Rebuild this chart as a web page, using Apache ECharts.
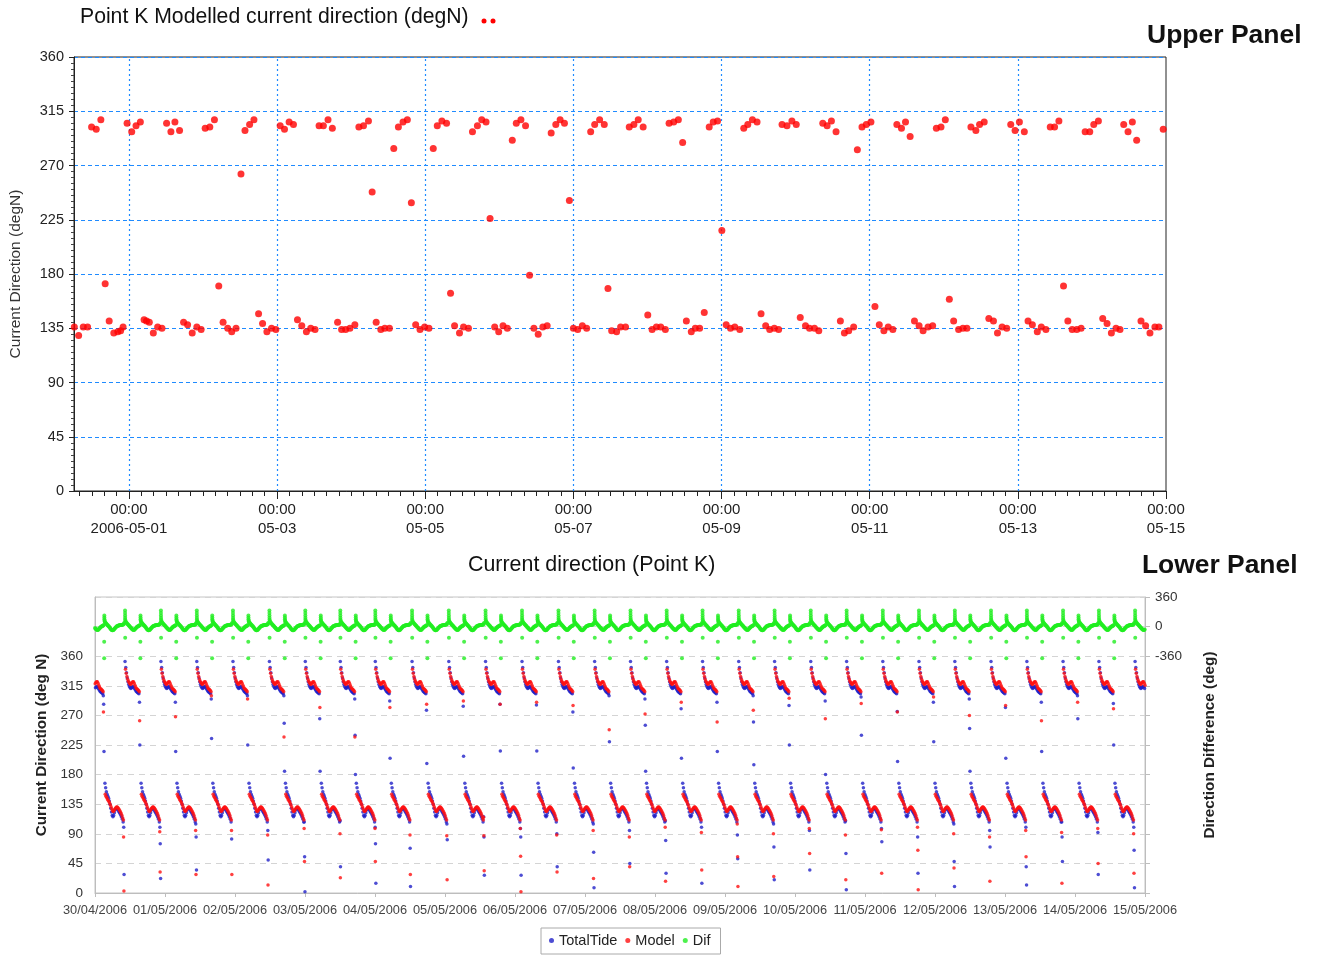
<!DOCTYPE html>
<html><head><meta charset="utf-8">
<script src="https://cdn.jsdelivr.net/npm/echarts@6/dist/echarts.min.js"></script>
<style>html,body{margin:0;padding:0;background:#fff}#c{width:1321px;height:956px}</style>
</head><body><div id="c"></div><script>
// ================= UPPER PANEL DATA =================
// [hours since 2006-05-01 00:00, direction degN]
const upperObs = [
[-17.7,136],[-16.3,129],[-14.8,136],[-13.4,136],[-12.1,302],[-10.6,300],[-9.1,308],[-7.7,172],
[-6.4,141],[-4.9,131],[-3.6,132],[-2.7,133],[-1.9,136],[-0.6,305],[0.9,298],[2.3,303],[3.7,306],
[4.9,142],[5.7,141],[6.6,140],[7.9,131],[9.3,136],[10.7,135],[12.2,305],[13.6,298],[14.9,306],[16.4,299],
[17.7,140],[19.0,138],[20.5,131],[22.0,136],[23.4,134],[24.7,301],[26.2,302],[27.7,308],[29.1,170],
[30.5,140],[32.0,135],[33.3,132],[34.7,135],[36.3,263],[37.6,299],[39.1,304],[40.5,308],
[42.0,147],[43.3,139],[44.7,132],[46.2,135],[47.6,134],[49.0,303],[50.4,300],[51.9,306],[53.3,304],
[54.6,142],[56.0,137],[57.5,132],[58.9,135],[60.3,134],[61.6,303],[63.0,303],[64.5,308],[65.9,301],
[67.6,140],[68.9,134],[70.2,134],[71.6,135],[73.2,138],[74.5,302],[76.0,303],[77.6,307],[78.8,248],
[80.1,140],[81.6,134],[82.9,135],[84.4,135],[85.8,284],[87.3,302],[88.8,306],[90.2,308],[91.5,239],
[92.9,138],[94.3,134],[95.8,136],[97.2,135],[98.6,284],[99.9,303],[101.4,307],[102.9,305],[104.2,164],
[105.5,137],[107.1,131],[108.4,136],[110.0,135],[111.3,298],[112.9,303],[114.3,308],[115.7,306],[117.0,226],
[118.5,136],[119.8,132],[121.2,137],[122.6,135],[124.2,291],[125.5,305],[127.0,308],[128.5,303],[129.8,179],
[131.2,135],[132.6,130],[134.1,136],[135.5,137],[136.8,297],[138.3,304],[139.7,308],[141.1,305],[142.7,241],
[144.0,135],[145.4,134],[146.9,137],[148.3,135],[149.6,298],[150.9,304],[152.5,308],[154.0,304],[155.2,168],
[156.4,133],[158.0,132],[159.3,136],[160.9,136],[162.1,302],[163.6,304],[165.0,308],[166.6,302],[168.1,146],
[169.5,134],[170.9,136],[172.3,136],[173.8,134],[175.0,305],[176.5,306],[178.0,308],[179.4,289],
[180.6,141],[182.2,132],[183.5,135],[184.9,135],[186.4,148],[188.0,302],[189.3,306],[190.7,307],[192.1,216],
[193.5,138],[194.9,135],[196.3,136],[197.9,134],[199.2,301],[200.5,304],[202.0,308],[203.5,306],[204.8,147],
[206.3,137],[207.6,134],[209.1,135],[210.5,134],[211.6,304],[213.2,303],[214.8,307],[216.2,304],[217.5,144],
[219.2,137],[220.5,135],[222.1,135],[223.5,133],[224.8,305],[226.2,303],[227.6,307],[229.1,298],
[230.5,141],[231.8,131],[233.2,133],[234.8,136],[236.0,283],[237.5,302],[238.9,304],[240.4,306],[241.7,153],
[243.1,138],[244.6,133],[246.0,136],[247.5,134],[248.8,304],[250.3,301],[251.6,306],[253.1,294],
[254.5,141],[256.0,137],[257.3,133],[258.9,136],[260.4,137],[261.6,301],[263.1,302],[264.5,308],[265.8,159],
[267.2,141],[268.8,134],[270.2,135],[271.5,135],[272.8,302],[274.4,299],[275.6,304],[277.1,306],
[278.6,143],[280.1,141],[281.4,131],[282.9,136],[284.4,135],[285.7,304],[287.1,299],[288.5,306],[290.1,298],
[291.3,141],[292.7,138],[294.3,132],[295.6,136],[297.1,134],[298.5,302],[299.9,302],[301.3,307],[302.8,170],
[304.2,141],[305.6,134],[307.1,134],[308.5,135],[309.8,298],[311.3,298],[312.6,304],[314.1,307],
[315.5,143],[316.9,139],[318.3,131],[319.8,135],[321.1,134],[322.3,304],[323.7,298],[325.1,306],[326.5,291],
[327.9,141],[329.4,137],[330.8,131],[332.4,136],[333.7,136],[335.1,300]
];
const upperTickLabelHours = [0, 48, 96, 144, 192, 240, 288, 336];
const upperTickLabelDates = ['2006-05-01', '05-03', '05-05', '05-07', '05-09', '05-11', '05-13', '05-15'];
const upperMinorTickHours = [-16,-12,-8,-4,0,4,8,12,16,20,24,28,32,36,40,44,48,52,56,60,64,68,72,76,80,84,88,92,96,100,104,108,112,116,120,124,128,132,136,140,144,148,152,156,160,164,168,172,176,180,184,188,192,196,200,204,208,212,216,220,224,228,232,236,240,244,248,252,256,260,264,268,272,276,280,284,288,292,296,300,304,308,312,316,320,324,328,332,336];

// ================= LOWER PANEL DATA =================
// hours since 30/04/2006 00:00 at which each tidal cycle (flood group) begins
const lowerCycleStart = [-2.1,10.3,22.6,34.9,47.3,59.8,72.1,84.1,96.1,108.7,121.3,133.9,146.4,158.9,171.3,183.6,196.0,208.3,220.7,233.0,245.4,257.7,270.1,282.5,294.8,307.2,319.5,331.9,344.2,356.6];
// typical within-cycle shape: [hours after cycle start, value]
const tideShape = [
[0.0,352],[0.25,343],[0.5,335],[0.75,327],[1.0,321],[1.25,317],[1.5,314],[1.75,312],[2.0,311],[2.25,312],[2.5,313],[2.75,314],[3.0,313],[3.25,311],[3.5,309],[3.75,307],[4.0,306],[4.25,305],[4.5,304],[4.75,303],
[5.5,167],[5.75,160],[6.0,154],[6.25,150],[6.5,147],[6.75,144],[7.0,140],[7.25,135],[7.5,129],[7.75,123],[8.0,118],[8.25,116],[8.5,118],[8.75,122],[9.0,126],[9.25,128],[9.5,129],[9.75,128],[10.0,126],[10.25,124],[10.5,122],[10.75,120],[11.0,118],[11.25,115],[11.5,112],[11.75,108]
];
const modelShape = [
[0.15,340],[0.4,334],[0.65,329],[0.9,325],[1.15,322],[1.4,320],[1.65,318],[1.9,317],[2.15,318],[2.4,320],[2.65,321],[2.9,321],[3.15,319],[3.4,316],[3.65,313],[3.9,311],[4.15,310],[4.4,309],[4.65,308],[4.9,306],
[5.6,150],[5.85,147],[6.1,145],[6.35,143],[6.6,141],[6.85,139],[7.1,137],[7.35,134],[7.6,131],[7.85,128],[8.1,125],[8.35,124],[8.6,125],[8.85,127],[9.1,129],[9.35,130],[9.6,131],[9.85,130],[10.1,129],[10.35,127],[10.6,125],[10.85,123],[11.1,121],[11.35,118],[11.6,114],[11.85,111]
];
const difShape = [
[0.0,195],[0.01,165],[0.02,135],[0.03,108],[0.05,85],[0.1,68],[0.3,58],[0.5,48],[0.7,38],[0.9,30],[1.1,22],[1.3,14],[1.5,6],[1.7,-2],[1.9,-10],[2.1,-18],[2.3,-26],[2.5,-33],[2.7,-38],[2.9,-41],[3.1,-40],[3.3,-35],[3.5,-27],[3.7,-19],[3.9,-11],[4.1,-4],[4.3,1],[4.5,5],[4.7,8],[4.9,12],[5.1,18],
[5.3,135],[5.31,110],[5.33,88],[5.37,70],[5.45,60],[5.6,52],[5.8,43],[6.0,35],[6.2,27],[6.4,19],[6.6,11],[6.8,3],[7.0,-6],[7.2,-15],[7.4,-25],[7.6,-33],[7.8,-40],[8.0,-44],[8.2,-45],[8.4,-41],[8.6,-34],[8.8,-26],[9.0,-18],[9.2,-10],[9.4,-3],[9.6,3],[9.8,7],[10.0,10],[10.2,13],[10.4,15],[10.6,17],[10.8,18],[11.0,19],[11.2,20],[11.4,22],[11.6,24],[11.8,27],[12.0,33],[12.15,48]
];
// per-cycle stray points at the end of the flood group and end of the ebb group
const tideMidTail = [[300,287,215],[290,225],[290,215],[295,235],[300,225],[300,258,185],[265,185],[295,240,180],[292,205],[278,197],[284,208],[287,216],[286,216],[275,190],[300,230],[295,255,185],[280,205],[290,215],[300,260,195],[285,225],[292,180],[298,240],[276,200],[290,230],[295,250,185],[282,205],[290,215],[300,265],[288,225],[]];
const modelMidTail = [[275],[262],[268],[300],[295],[237],[282],[237],[282],[287],[292],[287],[290],[285],[248],[272],[290],[260],[278],[296],[265],[288],[275],[298],[270],[285],[262],[290],[280],[]];
const tideEndTail = [[100,28],[100,75,22],[105,85,35],[82],[95,50],[108,55,2],[110,40],[100,75,15],[68,10],[105,81],[116,85,27],[98,85,27],[90,40],[105,62,8],[95,45],[110,80,30],[100,15],[88,52],[105,70,20],[95,35],[110,60,5],[98,78],[85,30],[105,48,10],[95,70],[100,40,12],[108,85,48],[92,28],[100,65,8],[]];
const modelEndTail = [[85,3],[93,32],[95,28],[95,28],[88,12],[98,48],[90,23],[98,48],[88,28],[87,20],[115,87,34],[98,56,2],[88,32],[95,22],[85,40],[100,18],[92,35],[105,55,10],[90,25],[98,60],[88,20],[96,30],[100,65,5],[90,38],[85,18],[95,55],[92,15],[98,45],[90,30],[]];
const difMidDots = [-185,-385];
const difStartDots = [-135];
const lowerDayLabels = ['30/04/2006','01/05/2006','02/05/2006','03/05/2006','04/05/2006','05/05/2006','06/05/2006','07/05/2006','08/05/2006','09/05/2006','10/05/2006','11/05/2006','12/05/2006','13/05/2006','14/05/2006','15/05/2006'];

// ================= BUILD =================
const LX_MIN = 0, LX_MAX = 360;
function inRange(t){ return t >= LX_MIN && t <= LX_MAX; }
const tideData = [], modelData = [], difData = [];
lowerCycleStart.forEach((s, c) => {
  tideShape.forEach(p => { const t = s + p[0]; if (inRange(t)) tideData.push([t, p[1]]); });
  modelShape.forEach(p => { const t = s + p[0]; if (inRange(t)) modelData.push([t, p[1]]); });
  difShape.forEach(p => { const t = s + p[0]; if (inRange(t)) difData.push([t, p[1]]); });
  tideMidTail[c].forEach((v, j) => { const t = s + 4.95 + 0.12 * j; if (inRange(t)) tideData.push([t, v]); });
  modelMidTail[c].forEach((v, j) => { const t = s + 5.0 + 0.12 * j; if (inRange(t)) modelData.push([t, v]); });
  tideEndTail[c].forEach((v, j) => { const t = s + 11.95 + 0.12 * j; if (inRange(t)) tideData.push([t, v]); });
  modelEndTail[c].forEach((v, j) => { const t = s + 11.9 + 0.12 * j; if (inRange(t)) modelData.push([t, v]); });
  difMidDots.forEach(v => { const t = s + 5.25; if (inRange(t)) difData.push([t, v]); });
  difStartDots.forEach(v => { const t = s + 0.05; if (inRange(t)) difData.push([t, v]); });
});

const FONT = 'Liberation Sans, Arial, sans-serif';
const chart = echarts.init(document.getElementById('c'), null, {renderer: 'canvas'});
const option = {
  animation: false,
  backgroundColor: '#ffffff',
  textStyle: { fontFamily: FONT },
  title: [
    { text: 'Point K Modelled current direction (degN)', left: 80, top: 7, padding: 0, textStyle: { fontFamily: FONT, fontSize: 21.2, fontWeight: 'normal', color: '#111' } },
    { text: 'Upper Panel', left: 1147, top: 22, padding: 0, textStyle: { fontFamily: FONT, fontSize: 26.5, fontWeight: 'bold', color: '#111' } },
    { text: 'Current direction (Point K)', left: 468, top: 555, padding: 0, textStyle: { fontFamily: FONT, fontSize: 21.4, fontWeight: 'normal', color: '#111' } },
    { text: 'Lower Panel', left: 1142, top: 553, padding: 0, textStyle: { fontFamily: FONT, fontSize: 26.4, fontWeight: 'bold', color: '#111' } }
  ],
  graphic: [
    { type: 'circle', shape: { cx: 484, cy: 21, r: 2.5 }, style: { fill: '#ff0000' } },
    { type: 'circle', shape: { cx: 493, cy: 21, r: 2.5 }, style: { fill: '#ff0000' } }
  ],
  legend: {
    data: ['TotalTide', 'Model', 'Dif'],
    left: 541, top: 928,
    padding: [5, 10, 6, 8],
    itemGap: 8, itemWidth: 5, itemHeight: 5,
    borderColor: '#aaa', borderWidth: 1,
    textStyle: { fontFamily: FONT, fontSize: 14.5, color: '#222' }
  },
  grid: [
    { left: 73, right: 155, top: 57, bottom: 465, show: true, borderColor: '#222', borderWidth: 1, backgroundColor: '#fff' },
    { left: 95, right: 176, top: 597, bottom: 63, show: true, borderColor: '#c4c4c4', borderWidth: 1, backgroundColor: '#fff' }
  ],
  xAxis: [
    { type: 'value', gridIndex: 0, min: -17.8, max: 336,
      axisLine: { show: true, onZero: false, lineStyle: { color: '#222' } },
      axisTick: { show: true, length: 5, customValues: upperMinorTickHours, lineStyle: { color: '#222' } },
      axisLabel: { show: true, customValues: upperTickLabelHours, margin: 9, fontSize: 15, lineHeight: 19, color: '#222', fontFamily: FONT,
        formatter: v => { const i = upperTickLabelHours.indexOf(Math.round(v)); return i < 0 ? '' : '00:00\n' + upperTickLabelDates[i]; } },
      splitLine: { show: false } },
    { type: 'value', gridIndex: 0, min: -17.8, max: 336, position: 'bottom',
      axisLine: { show: false, onZero: false },
      axisTick: { show: true, length: 8, customValues: upperTickLabelHours, lineStyle: { color: '#222' } },
      axisLabel: { show: false }, splitLine: { show: false } },
    { type: 'value', gridIndex: 1, min: LX_MIN, max: LX_MAX, interval: 24,
      axisLine: { show: true, onZero: false, lineStyle: { color: '#bdbdbd' } },
      axisTick: { show: true, length: 4, lineStyle: { color: '#bdbdbd' } },
      axisLabel: { margin: 11, fontSize: 12.8, color: '#444', fontFamily: FONT,
        formatter: v => lowerDayLabels[Math.round(v / 24)] || '' },
      splitLine: { show: false } }
  ],
  yAxis: [
    { type: 'value', gridIndex: 0, min: 0, max: 360, interval: 45,
      name: 'Current Direction (degN)', nameLocation: 'middle', nameGap: 50,
      nameTextStyle: { fontFamily: FONT, fontSize: 15.5, color: '#333' },
      axisLine: { show: true, onZero: false, lineStyle: { color: '#222' } },
      axisTick: { show: true, length: 5, lineStyle: { color: '#222' } },
      minorTick: { show: true, splitNumber: 9, length: 3, lineStyle: { color: '#444' } },
      axisLabel: { margin: 10, fontSize: 14.5, color: '#222', fontFamily: FONT },
      splitLine: { show: true, lineStyle: { color: '#1f8bff', type: [4, 3], width: 1.2 } } },
    { type: 'value', gridIndex: 1, min: 0, max: 450, interval: 45, position: 'left',
      name: 'Current Direction (deg N)', nameLocation: 'middle', nameGap: 46,
      nameTextStyle: { fontFamily: FONT, fontSize: 15.3, fontWeight: 'bold', color: '#222' },
      axisLine: { show: true, onZero: false, lineStyle: { color: '#bdbdbd' } },
      axisTick: { show: false },
      axisLabel: { margin: 12, fontSize: 13.5, color: '#333', fontFamily: FONT, formatter: v => v <= 360 ? String(v) : '' },
      splitLine: { show: true, lineStyle: { color: '#d4d4d4', type: [6, 5], width: 1 } } },
    { type: 'value', gridIndex: 1, min: -3240, max: 360, interval: 360, position: 'right',
      name: 'Direction Difference (deg)', nameLocation: 'middle', nameGap: 57, nameRotate: 90,
      nameTextStyle: { fontFamily: FONT, fontSize: 15.3, fontWeight: 'bold', color: '#222' },
      axisLine: { show: true, onZero: false, lineStyle: { color: '#bdbdbd' } },
      axisTick: { show: true, length: 5, lineStyle: { color: '#bdbdbd' } },
      axisLabel: { margin: 10, fontSize: 13.5, color: '#333', fontFamily: FONT, formatter: v => v >= -360 ? String(v) : '' },
      splitLine: { show: false } }
  ],
  series: [
    { name: 'Point K Modelled', type: 'scatter', xAxisIndex: 0, yAxisIndex: 0,
      data: upperObs, symbolSize: 7, itemStyle: { color: '#ff0000' }, z: 5,
      markLine: { silent: true, symbol: ['none', 'none'], label: { show: false },
        lineStyle: { color: '#1f8bff', type: [2, 3], width: 1.2, opacity: 1 },
        data: upperTickLabelHours.slice(0, upperTickLabelHours.length - 1).map(h => ({ xAxis: h })) } },
    { name: 'TotalTide', type: 'scatter', xAxisIndex: 2, yAxisIndex: 1,
      data: tideData, symbolSize: 3.5, itemStyle: { color: '#2020c8' } },
    { name: 'Model', type: 'scatter', xAxisIndex: 2, yAxisIndex: 1,
      data: modelData, symbolSize: 3.5, itemStyle: { color: '#ff1010' } },
    { name: 'Dif', type: 'scatter', xAxisIndex: 2, yAxisIndex: 2,
      data: difData, symbolSize: 4, itemStyle: { color: '#20ee20' } }
  ]
};
chart.setOption(option);
</script></body></html>
